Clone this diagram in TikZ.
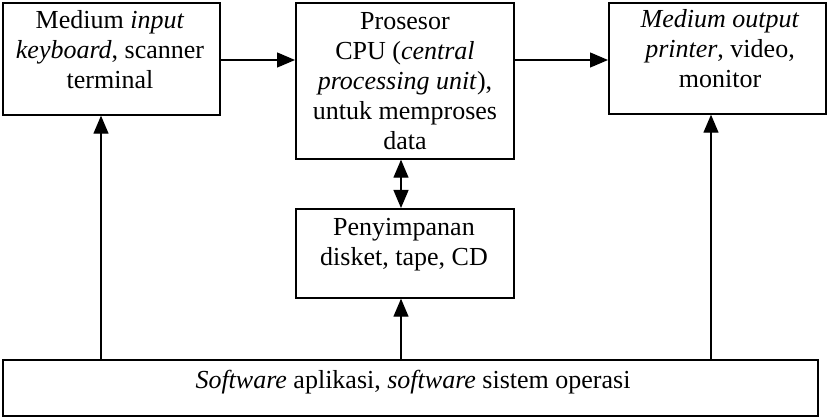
\documentclass[tikz,border=0pt]{standalone}
\usepackage{fontspec}
\setmainfont{Liberation Serif}
\usetikzlibrary{arrows.meta,calc}
\begin{document}
\begin{tikzpicture}[x=1pt,y=-1pt,
  box/.style={draw,line width=1.7pt,rectangle,inner sep=0pt,anchor=north west},
  txt/.style={inner sep=0pt,align=center,anchor=north,font=\fontsize{26}{30}\selectfont},
  arr/.style={line width=1.3pt,-{Triangle[length=18pt,width=15pt]}},
  darr/.style={line width=1.3pt,{Triangle[length=18pt,width=15pt]}-{Triangle[length=18pt,width=15pt]}}]
\useasboundingbox[fill=white] (0,0) rectangle (828,417);
\node[box,minimum width=217pt,minimum height=112pt] (A) at (2,2) {};
\node[box,minimum width=218pt,minimum height=156pt] (B) at (295,2) {};
\node[box,minimum width=218pt,minimum height=89pt] (C) at (295,208) {};
\node[box,minimum width=217pt,minimum height=111pt] (D) at (608,2) {};
\node[box,minimum width=815pt,minimum height=56pt] (E) at (2,359) {};
\node[txt] (At) at (110,7) {\strut Medium \textit{input}\\\strut\textit{keyboard}, scanner\\\strut terminal};
\node[txt] (Bt) at (405,8) {\strut Prosesor\\\strut CPU (\textit{central}\\\strut\textit{processing unit}),\\\strut untuk memproses\\\strut data};
\node[txt] (Ct) at (404,214) {\strut Penyimpanan\\\strut disket, tape, CD};
\node[txt] (Dt) at (720,6) {\strut\textit{Medium output}\\\strut\textit{printer}, video,\\\strut monitor};
\node[txt] (Et) at (413,367) {\strut\textit{Software} aplikasi, \textit{software} sistem operasi};
\coordinate (h) at (0,60);
\coordinate (v1) at (101,0);
\coordinate (v2) at (401,0);
\coordinate (v3) at (711,0);
\draw[arr] (A.east |- h) -- (B.west |- h);
\draw[arr] (B.east |- h) -- (D.west |- h);
\draw[darr] (B.south -| v2) -- (C.north -| v2);
\draw[arr] (E.north -| v1) -- (A.south -| v1);
\draw[arr] (E.north -| v2) -- (C.south -| v2);
\draw[arr] (E.north -| v3) -- (D.south -| v3);
\end{tikzpicture}
\end{document}
